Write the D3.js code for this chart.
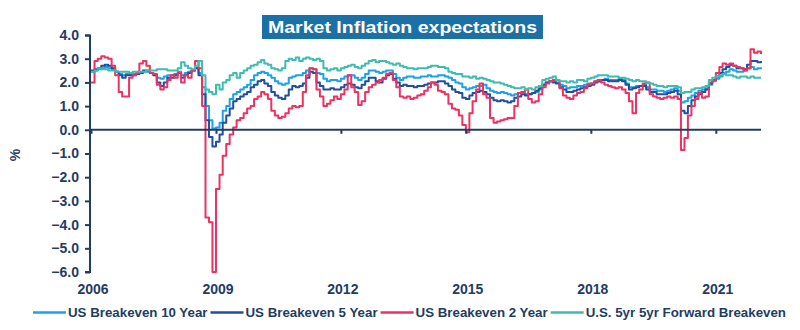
<!DOCTYPE html>
<html>
<head>
<meta charset="utf-8">
<script src="https://cdn.jsdelivr.net/npm/d3@7"></script>
<style>
  body { margin: 0; background: #fff; }
  svg { display: block; font-family: "Liberation Sans", Arial, sans-serif; }
</style>
</head>
<body>
<div id="chart"></div>
<script>
// Monthly readings, Jan 2006 .. Feb 2022 (one row per year)
const be10 = [
  2.45, 2.5, 2.55, 2.6, 2.65, 2.6, 2.55, 2.45, 2.35, 2.3, 2.35, 2.35,
  2.35, 2.35, 2.4, 2.45, 2.45, 2.4, 2.35, 2.2, 2.15, 2.25, 2.3, 2.3,
  2.35, 2.45, 2.3, 2.4, 2.45, 2.5, 2.6, 2.4, 1.8, 1.0, 0.4, 0.05,
  0.1, 0.3, 0.8, 1.0, 1.3, 1.5, 1.6, 1.7, 1.8, 1.9, 2.1, 2.3,
  2.4, 2.45, 2.4, 2.3, 2.2, 2.05, 1.95, 1.9, 1.95, 2.2, 2.25, 2.3,
  2.3, 2.4, 2.5, 2.6, 2.55, 2.4, 2.35, 2.15, 2.05, 2.1, 2.1, 2.05,
  2.15, 2.25, 2.3, 2.3, 2.2, 2.1, 2.2, 2.35, 2.5, 2.5, 2.45, 2.4,
  2.45, 2.5, 2.5, 2.35, 2.2, 2.1, 2.2, 2.25, 2.25, 2.2, 2.2, 2.25,
  2.25, 2.3, 2.25, 2.25, 2.3, 2.3, 2.25, 2.2, 2.1, 2.0, 1.95, 1.8,
  1.7, 1.75, 1.8, 1.85, 1.85, 1.9, 1.75, 1.65, 1.6, 1.55, 1.6, 1.55,
  1.5, 1.45, 1.5, 1.55, 1.6, 1.5, 1.5, 1.55, 1.6, 1.7, 1.9, 2.0,
  2.05, 2.05, 2.0, 1.9, 1.85, 1.75, 1.8, 1.8, 1.85, 1.85, 1.9, 1.95,
  1.95, 2.05, 2.05, 2.1, 2.15, 2.1, 2.1, 2.1, 2.15, 2.1, 1.95, 1.8,
  1.8, 1.85, 1.85, 1.9, 1.8, 1.7, 1.7, 1.65, 1.65, 1.6, 1.65, 1.7,
  1.75, 1.65, 1.15, 1.2, 1.35, 1.45, 1.55, 1.65, 1.7, 1.75, 1.9, 2.05,
  2.15, 2.25, 2.4, 2.45, 2.55, 2.5, 2.45, 2.45, 2.5, 2.6, 2.65, 2.55,
  2.6, 2.55
];

const be5 = [
  2.5, 2.55, 2.6, 2.7, 2.75, 2.7, 2.6, 2.45, 2.3, 2.2, 2.3, 2.3,
  2.3, 2.35, 2.4, 2.5, 2.5, 2.4, 2.3, 2.0, 1.85, 2.0, 2.2, 2.2,
  2.3, 2.4, 2.2, 2.3, 2.4, 2.5, 2.6, 2.3, 1.5, 0.4, -0.3, -0.7,
  -0.5, -0.2, 0.3, 0.6, 0.9, 1.2, 1.3, 1.4, 1.5, 1.6, 1.8, 1.9,
  2.05, 2.1, 1.95, 1.85, 1.6, 1.45, 1.35, 1.3, 1.45, 1.7, 1.85, 1.8,
  1.85, 1.95, 2.2, 2.45, 2.4, 2.0, 1.85, 1.7, 1.7, 1.75, 1.7, 1.7,
  1.8, 1.9, 1.95, 1.9, 1.8, 1.75, 1.9, 2.05, 2.2, 2.2, 2.05, 2.0,
  2.15, 2.3, 2.35, 2.15, 2.0, 1.85, 1.9, 1.85, 1.85, 1.8, 1.85, 1.85,
  1.9, 1.95, 2.0, 2.0, 2.05, 2.05, 1.95, 1.85, 1.7, 1.6, 1.55, 1.35,
  1.3, 1.45, 1.55, 1.6, 1.65, 1.6, 1.5, 1.35, 1.25, 1.2, 1.25, 1.2,
  1.15, 1.2, 1.35, 1.4, 1.5, 1.45, 1.5, 1.55, 1.65, 1.75, 1.9, 2.0,
  2.05, 2.0, 1.95, 1.8, 1.7, 1.6, 1.6, 1.65, 1.7, 1.75, 1.8, 1.85,
  1.9, 2.0, 2.05, 2.1, 2.1, 2.05, 2.05, 2.05, 2.1, 2.05, 1.9, 1.7,
  1.75, 1.8, 1.85, 1.85, 1.7, 1.6, 1.6, 1.5, 1.5, 1.5, 1.55, 1.6,
  1.65, 1.5, 0.8, 0.7, 1.0, 1.25, 1.4, 1.5, 1.6, 1.7, 1.95, 2.1,
  2.25, 2.4, 2.55, 2.65, 2.75, 2.7, 2.6, 2.6, 2.55, 2.75, 2.9, 2.9,
  2.85, 2.9
];

const be2 = [
  2.0, 2.9, 3.0, 3.1, 3.05, 3.0, 2.7, 2.3, 1.6, 1.4, 1.4, 2.2,
  2.3, 2.4, 2.8, 2.9, 2.7, 2.4, 2.35, 1.9, 1.7, 1.8, 2.1, 2.3,
  2.2, 2.4, 2.0, 2.3, 2.2, 2.5, 2.9, 2.6, 1.0, -3.7, -3.9, -6.0,
  -2.5, -1.9, -1.1, -0.6, -0.2, 0.1, 0.4, 0.5, 0.7, 0.9, 1.0, 1.3,
  1.4, 1.6, 1.5, 1.3, 0.8, 0.6, 0.5, 0.55, 0.7, 0.9, 1.0, 0.95,
  1.0, 1.6, 2.3, 2.6, 2.55, 1.7, 1.4, 1.0, 1.1, 1.25, 1.4, 1.3,
  1.5, 1.7, 2.3, 1.8, 1.6, 1.05, 1.2, 1.6, 1.8, 1.9, 2.0, 2.1,
  2.2, 2.35, 2.4, 2.1, 1.8, 1.4, 1.35, 1.4, 1.3, 1.35, 1.45, 1.5,
  1.65, 1.8, 2.0, 1.9, 1.65, 1.6, 1.5, 1.1, 0.9, 0.85, 0.6, 0.2,
  -0.1, 0.7, 1.2, 1.7, 1.95, 1.5, 1.35, 0.5, 0.3, 0.35, 0.4, 0.45,
  0.5, 0.5, 1.0, 1.55, 1.6, 1.7, 1.3, 1.15, 1.2, 1.5, 1.8, 1.95,
  2.05, 2.1, 2.1, 1.75, 1.45, 1.35, 1.3, 1.45, 1.55, 1.6, 1.75, 1.9,
  1.95, 2.05, 2.1, 2.0, 1.9, 1.85, 1.8, 1.75, 1.8, 1.7, 1.55, 1.2,
  0.7, 1.55, 1.7, 1.95, 2.0, 1.5, 1.4, 1.35, 1.3, 1.35, 1.4, 1.35,
  1.4, 1.3, -0.85, -0.35, 0.6, 1.0, 1.3, 1.55, 1.35, 1.4, 2.0, 2.1,
  2.4, 2.65, 2.8, 2.75, 2.8, 2.7, 2.65, 2.6, 2.5, 2.6, 3.4, 3.25,
  3.3, 3.2
];

const fwd5y5y = [
  2.45, 2.5, 2.6, 2.55, 2.55, 2.5, 2.5, 2.45, 2.45, 2.45, 2.45, 2.4,
  2.45, 2.45, 2.45, 2.45, 2.5, 2.5, 2.5, 2.55, 2.55, 2.55, 2.5, 2.5,
  2.5, 2.6, 2.85, 2.7, 2.6, 2.55, 2.7, 2.9, 2.3, 1.7, 1.6, 1.5,
  1.9, 1.7, 2.0, 2.1, 2.3, 2.4, 2.2, 2.4, 2.5, 2.6, 2.7, 2.75,
  2.85, 2.95, 2.8, 2.75, 2.6, 2.55, 2.5, 2.6, 2.9, 3.0, 2.95, 3.05,
  2.9, 3.0, 3.05, 3.0, 2.95, 3.0, 2.9, 2.6, 2.5, 2.55, 2.6, 2.5,
  2.6, 2.65, 2.7, 2.75, 2.65, 2.6, 2.7, 2.8, 2.9, 2.95, 2.85, 2.9,
  2.9, 2.85, 2.8, 2.75, 2.8, 2.7, 2.65, 2.6, 2.6, 2.55, 2.6, 2.6,
  2.6, 2.65, 2.7, 2.7, 2.65, 2.65, 2.6, 2.45, 2.4, 2.35, 2.35, 2.25,
  2.25, 2.2, 2.25, 2.15, 2.2, 2.15, 2.1, 2.05, 2.0, 2.0, 1.95, 1.9,
  1.85, 1.8, 1.75, 1.75, 1.8, 1.7, 1.75, 1.7, 1.8, 1.85, 2.1, 2.15,
  2.2, 2.25, 2.1, 2.05, 2.05, 2.0, 2.05, 2.0, 2.1, 2.1, 2.05, 2.15,
  2.2, 2.25, 2.3, 2.3, 2.3, 2.25, 2.25, 2.25, 2.2, 2.2, 2.15, 2.1,
  2.05, 2.1, 2.05, 2.05, 2.0, 1.95, 1.9, 1.85, 1.85, 1.8, 1.85, 1.85,
  1.85, 1.8, 1.55, 1.6, 1.6, 1.7, 1.75, 1.75, 1.8, 1.85, 2.1, 2.2,
  2.25, 2.3, 2.35, 2.3, 2.3, 2.25, 2.2, 2.25, 2.25, 2.2, 2.25, 2.2,
  2.2, 2.2
];

const yTicks = [4, 3, 2, 1, 0, -1, -2, -3, -4, -5, -6];
const yearTicks = [2006, 2009, 2012, 2015, 2018, 2021];

const seriesList = [
  {name: "US Breakeven 10 Year", values: be10, color: "#1aa3e8"},
  {name: "US Breakeven 5 Year", values: be5, color: "#1f4f9e"},
  {name: "US Breakeven 2 Year", values: be2, color: "#ee3160"},
  {name: "U.S. 5yr 5yr Forward Breakeven", values: fwd5y5y, color: "#3dbcb0"}
];

const months = d3.timeMonth.range(new Date(2006, 0, 1), new Date(2022, 2, 1));

const axisColor = "#1f3c63";

const margin = {top: 35, right: 39, bottom: 58, left: 90},
      width = 800 - margin.left - margin.right,
      height = 330 - margin.top - margin.bottom;

const svgRoot = d3.select("#chart")
  .append("svg")
    .attr("width", 800)
    .attr("height", 330);

const svg = svgRoot.append("g")
    .attr("transform", `translate(${margin.left},${margin.top})`);

const x = d3.scaleTime()
    .domain([new Date(2006, 0, 1), new Date(2022, 1, 1)])
    .range([1, width]);

const y = d3.scaleLinear()
    .domain([-6, 4])
    .range([height, 0]);

// Title box
svgRoot.append("rect")
    .attr("x", 262).attr("y", 15)
    .attr("width", 281).attr("height", 24)
    .attr("fill", "#1b70a6");
svgRoot.append("text")
    .attr("x", 268).attr("y", 33)
    .attr("fill", "#fff")
    .attr("font-size", 17)
    .attr("font-weight", "bold")
    .attr("textLength", 269)
    .attr("lengthAdjust", "spacingAndGlyphs")
    .text("Market Inflation expectations");

// Lines
const line = d3.line()
    .curve(d3.curveStepAfter)
    .x((d, i) => x(months[i]))
    .y(d => y(d));

seriesList.forEach(s => {
  svg.append("path")
    .datum(s.values)
    .attr("fill", "none")
    .attr("stroke", s.color)
    .attr("stroke-width", 2)
    .attr("stroke-linejoin", "round")
    .attr("d", line);
});

// Y axis on the left
const yAxis = svg.append("g")
    .call(d3.axisLeft(y).tickValues(yTicks).tickFormat(d3.format(".1f")).tickSize(5).tickPadding(6));
yAxis.select(".domain").attr("stroke", axisColor).attr("stroke-width", 2)
    .attr("d", `M-5,0.5H0V${height}H-5`);
yAxis.selectAll(".tick line").attr("stroke", axisColor).attr("stroke-width", 2);
yAxis.selectAll(".tick text")
    .attr("fill", axisColor)
    .attr("font-size", 14)
    .attr("font-weight", "bold")
    .attr("font-family", "Liberation Sans, Arial, sans-serif");

// X axis sits on the zero line, labels along the bottom
const xAxis = svg.append("g")
    .attr("transform", `translate(0,${y(0)})`)
    .call(d3.axisBottom(x).tickValues(yearTicks.map(yr => new Date(yr, 0, 1))).tickSize(4).tickFormat(""));
xAxis.select(".domain").attr("stroke", axisColor).attr("stroke-width", 2)
    .attr("d", `M0,0H${width}`);
xAxis.selectAll(".tick line").attr("stroke", axisColor).attr("stroke-width", 2);

svg.selectAll(".year-label")
    .data(yearTicks)
  .enter().append("text")
    .attr("class", "year-label")
    .attr("x", d => x(new Date(d, 0, 1)) + 2)
    .attr("y", height + 22)
    .attr("text-anchor", "middle")
    .attr("fill", axisColor)
    .attr("font-size", 14)
    .attr("font-weight", "bold")
    .text(d => d);

// Y axis title
svgRoot.append("text")
    .attr("transform", "translate(20,155) rotate(-90)")
    .attr("text-anchor", "middle")
    .attr("fill", axisColor)
    .attr("font-size", 14)
    .attr("font-weight", "bold")
    .text("%");

// Legend along the bottom
const legend = svgRoot.append("g").attr("transform", "translate(33,317)");
let lx = 0;
seriesList.forEach(s => {
  legend.append("line")
    .attr("x1", lx).attr("x2", lx + 33)
    .attr("y1", -4.5).attr("y2", -4.5)
    .attr("stroke", s.color)
    .attr("stroke-width", 2.5);
  const t = legend.append("text")
    .attr("x", lx + 35)
    .attr("y", 0)
    .attr("fill", axisColor)
    .attr("font-size", 13.3)
    .attr("font-weight", "bold")
    .text(s.name);
  lx += 35 + t.node().getComputedTextLength() + 3;
});
</script>
</body>
</html>
